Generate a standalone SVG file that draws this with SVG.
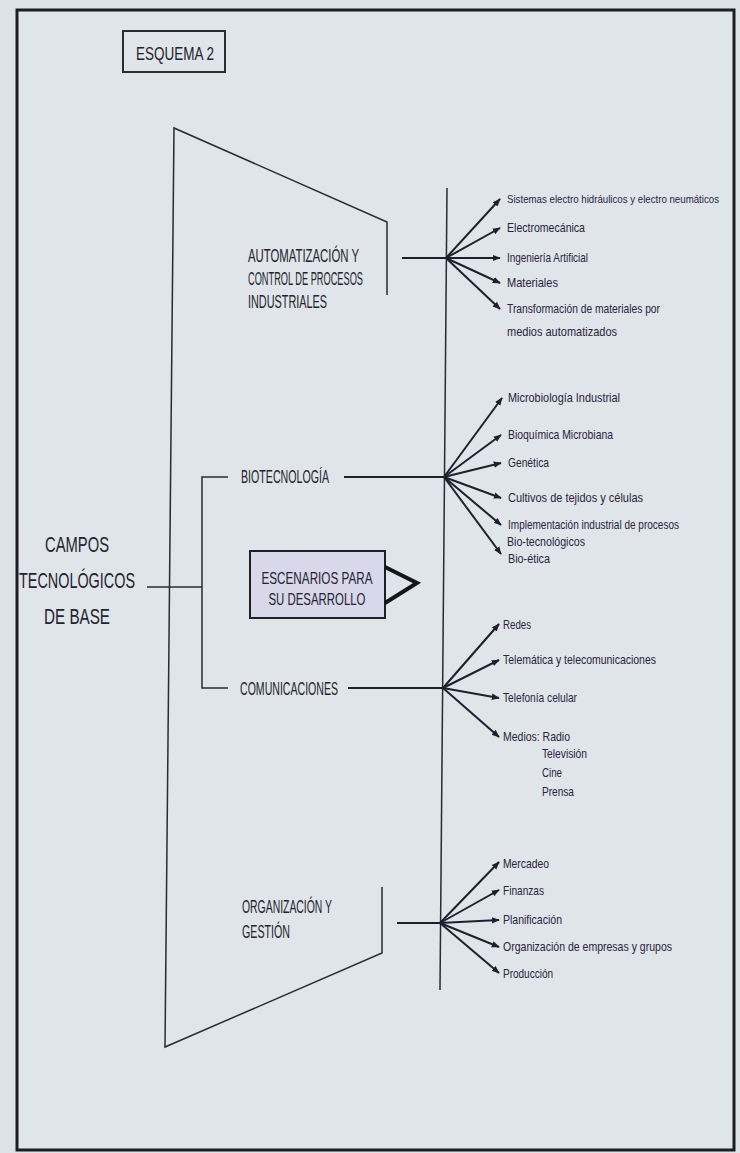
<svg xmlns="http://www.w3.org/2000/svg" width="740" height="1153" viewBox="0 0 740 1153">
<style>
.ln{stroke:#1f1f2a;stroke-width:2;fill:none}
.thin{stroke:#2a2a33;stroke-width:1.5;fill:none}
.ar{stroke:#1f1f2e;stroke-width:2;fill:none;marker-end:url(#ah)}
.big{font-family:"Liberation Sans","DejaVu Sans",sans-serif;font-size:18px;fill:#23232e}
.it{font-family:"Liberation Sans","DejaVu Sans",sans-serif;font-size:13px;fill:#2a2340}
</style>
<defs>
<marker id="ah" viewBox="0 0 10 10" refX="9" refY="5" markerWidth="8" markerHeight="8" markerUnits="userSpaceOnUse" orient="auto">
<path d="M0,1 L10,5 L0,9 z" fill="#1f1f2e"/>
</marker>
</defs>
<rect x="0" y="0" width="740" height="1153" fill="#dce2e5"/>
<rect x="17" y="10" width="717" height="1140" fill="#dfe5e8" stroke="#1c1c24" stroke-width="3"/>

<g id="esquema">
<rect x="123" y="31" width="102" height="41" fill="none" stroke="#2a2a33" stroke-width="2"/>
<text class="big" x="136" y="60" style="font-size:19px" textLength="78" lengthAdjust="spacingAndGlyphs">ESQUEMA 2</text>
</g>

<g id="campos">
<text class="big" style="font-size:22px" text-anchor="middle" x="77" y="552" textLength="64" lengthAdjust="spacingAndGlyphs">CAMPOS</text>
<text class="big" style="font-size:22px" text-anchor="middle" x="77" y="588" textLength="116" lengthAdjust="spacingAndGlyphs">TECNOLÓGICOS</text>
<text class="big" style="font-size:22px" text-anchor="middle" x="77" y="624" textLength="66" lengthAdjust="spacingAndGlyphs">DE BASE</text>
</g>

<g id="automatizacion">
<text class="big" x="248" y="262" textLength="111" lengthAdjust="spacingAndGlyphs">AUTOMATIZACIÓN Y</text>
<text class="big" x="248" y="285" textLength="115" lengthAdjust="spacingAndGlyphs">CONTROL DE PROCESOS</text>
<text class="big" x="248" y="308" textLength="79" lengthAdjust="spacingAndGlyphs">INDUSTRIALES</text>
</g>

<g id="biotecnologia">
<text class="big" x="241" y="483" textLength="88" lengthAdjust="spacingAndGlyphs">BIOTECNOLOGÍA</text>
</g>

<g id="escenarios">
<rect x="250" y="551" width="135" height="67" fill="#d9d7ea" stroke="#1f1f2a" stroke-width="2"/>
<text class="big" style="font-size:17px" text-anchor="middle" x="317" y="584" textLength="111" lengthAdjust="spacingAndGlyphs">ESCENARIOS PARA</text>
<text class="big" style="font-size:17px" text-anchor="middle" x="317" y="605" textLength="97" lengthAdjust="spacingAndGlyphs">SU DESARROLLO</text>
<polyline points="385,567 417,583 385,603" fill="none" stroke="#15151c" stroke-width="4"/>
</g>

<g id="comunicaciones">
<text class="big" x="240" y="695" textLength="98" lengthAdjust="spacingAndGlyphs">COMUNICACIONES</text>
</g>

<g id="organizacion">
<text class="big" x="242" y="913" textLength="90" lengthAdjust="spacingAndGlyphs">ORGANIZACIÓN Y</text>
<text class="big" x="242" y="938" textLength="48" lengthAdjust="spacingAndGlyphs">GESTIÓN</text>
</g>

<g id="items-automatizacion">
<text class="it" x="507" y="203" style="font-size:10.5px" textLength="212" lengthAdjust="spacingAndGlyphs">Sistemas electro hidráulicos y electro neumáticos</text>
<text class="it" x="507" y="232" textLength="78" lengthAdjust="spacingAndGlyphs">Electromecánica</text>
<text class="it" x="507" y="262" textLength="81" lengthAdjust="spacingAndGlyphs">Ingeniería Artificial</text>
<text class="it" x="507" y="287" textLength="51" lengthAdjust="spacingAndGlyphs">Materiales</text>
<text class="it" x="507" y="313" textLength="153" lengthAdjust="spacingAndGlyphs">Transformación de materiales por</text>
<text class="it" x="507" y="336" textLength="110" lengthAdjust="spacingAndGlyphs">medios automatizados</text>
</g>

<g id="items-biotecnologia">
<text class="it" x="508" y="402" textLength="112" lengthAdjust="spacingAndGlyphs">Microbiología Industrial</text>
<text class="it" x="508" y="439" textLength="105" lengthAdjust="spacingAndGlyphs">Bioquímica Microbiana</text>
<text class="it" x="508" y="467" textLength="41" lengthAdjust="spacingAndGlyphs">Genética</text>
<text class="it" x="508" y="502" textLength="135" lengthAdjust="spacingAndGlyphs">Cultivos de tejidos y células</text>
<text class="it" x="508" y="529" textLength="171" lengthAdjust="spacingAndGlyphs">Implementación industrial de procesos</text>
<text class="it" x="507" y="546" textLength="78" lengthAdjust="spacingAndGlyphs">Bio-tecnológicos</text>
<text class="it" x="508" y="563" textLength="42" lengthAdjust="spacingAndGlyphs">Bio-ética</text>
</g>

<g id="items-comunicaciones">
<text class="it" x="503" y="629" textLength="28" lengthAdjust="spacingAndGlyphs">Redes</text>
<text class="it" x="503" y="664" textLength="153" lengthAdjust="spacingAndGlyphs">Telemática y telecomunicaciones</text>
<text class="it" x="503" y="702" textLength="74" lengthAdjust="spacingAndGlyphs">Telefonía celular</text>
<text class="it" x="503" y="741" textLength="67" lengthAdjust="spacingAndGlyphs">Medios: Radio</text>
<text class="it" x="542" y="758" textLength="45" lengthAdjust="spacingAndGlyphs">Televisión</text>
<text class="it" x="542" y="777" textLength="20" lengthAdjust="spacingAndGlyphs">Cine</text>
<text class="it" x="542" y="796" textLength="32" lengthAdjust="spacingAndGlyphs">Prensa</text>
</g>

<g id="items-organizacion">
<text class="it" x="503" y="868" textLength="46" lengthAdjust="spacingAndGlyphs">Mercadeo</text>
<text class="it" x="503" y="895" textLength="41" lengthAdjust="spacingAndGlyphs">Finanzas</text>
<text class="it" x="503" y="924" textLength="59" lengthAdjust="spacingAndGlyphs">Planificación</text>
<text class="it" x="503" y="951" textLength="169" lengthAdjust="spacingAndGlyphs">Organización de empresas y grupos</text>
<text class="it" x="503" y="978" textLength="50" lengthAdjust="spacingAndGlyphs">Producción</text>
</g>

<g id="connectors">
<polyline class="thin" points="387,295 387,222 174,128 165,1047 382,953 382,887"/>
<polyline class="thin" points="228,477 202,477 202,688 228,688"/>
<line class="thin" x1="147" y1="587" x2="202" y2="587"/>
<line class="thin" x1="447" y1="188" x2="440" y2="990"/>
<line class="ln" x1="402" y1="258" x2="446" y2="258"/>
<line class="ln" x1="344" y1="477" x2="444" y2="477"/>
<line class="ln" x1="348" y1="688" x2="443" y2="688"/>
<line class="ln" x1="397" y1="923" x2="440" y2="923"/>
<path class="ar" d="M446,258 L500,199"/>
<path class="ar" d="M446,258 L500,228"/>
<path class="ar" d="M446,258 L500,258"/>
<path class="ar" d="M446,258 L500,283"/>
<path class="ar" d="M446,258 L500,309"/>
<path class="ar" d="M444,477 L502,398"/>
<path class="ar" d="M444,477 L501,435"/>
<path class="ar" d="M444,477 L501,463"/>
<path class="ar" d="M444,477 L501,498"/>
<path class="ar" d="M444,477 L501,525"/>
<path class="ar" d="M444,477 L501,554"/>
<path class="ar" d="M443,688 L499,624"/>
<path class="ar" d="M443,688 L499,660"/>
<path class="ar" d="M443,688 L499,698"/>
<path class="ar" d="M443,688 L499,737"/>
<path class="ar" d="M440,923 L499,862"/>
<path class="ar" d="M440,923 L499,890"/>
<path class="ar" d="M440,923 L499,920"/>
<path class="ar" d="M440,923 L499,947"/>
<path class="ar" d="M440,923 L499,973"/>
</g>
</svg>
